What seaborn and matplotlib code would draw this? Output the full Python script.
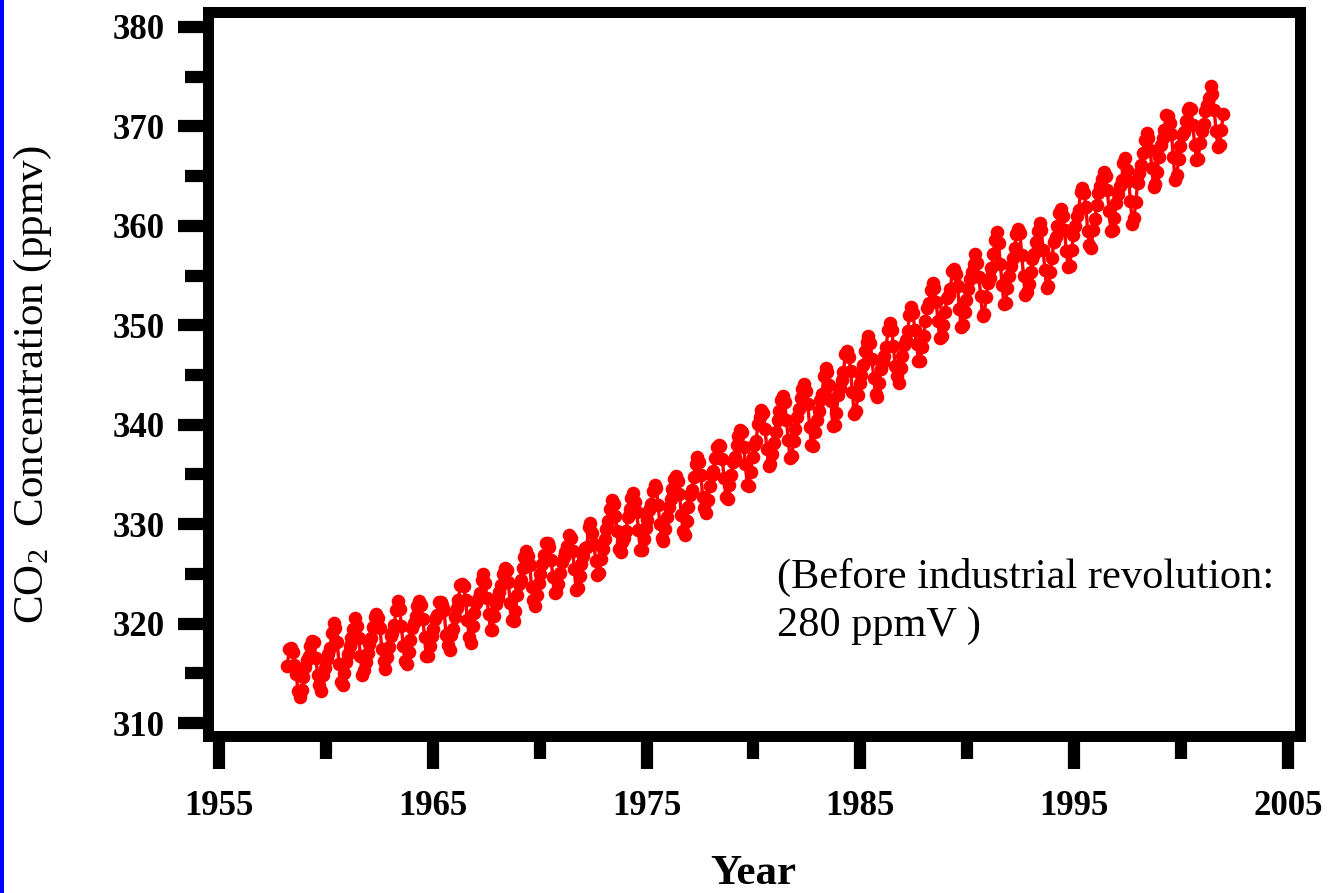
import matplotlib
matplotlib.use("Agg")
import matplotlib.pyplot as plt
import seaborn as sns
import pandas as pd
from matplotlib.ticker import MultipleLocator
from matplotlib.patches import Rectangle

# ---- Data: monthly CO2 concentration (ppmv), Mauna Loa ----
first_month_1958 = 3  # series starts in March 1958
co2_1958 = [315.71, 317.45, 317.50, 317.10, 315.86, 314.93, 313.20, 312.66, 313.33, 314.67]
co2_1959 = [315.62, 316.38, 316.71, 317.72, 318.29, 318.15, 316.54, 314.80, 313.84, 313.26, 314.80, 315.58]
co2_1960 = [316.43, 316.97, 317.58, 319.02, 320.03, 319.59, 318.18, 315.91, 314.16, 313.83, 315.00, 316.19]
co2_1961 = [316.93, 317.70, 318.54, 319.48, 320.58, 319.77, 318.57, 316.79, 314.80, 315.38, 316.10, 317.01]
co2_1962 = [317.94, 318.56, 319.68, 320.63, 321.01, 320.55, 319.58, 317.40, 316.26, 315.42, 316.69, 317.69]
co2_1963 = [318.74, 319.08, 319.86, 321.39, 322.25, 321.47, 319.74, 317.77, 316.21, 315.99, 317.12, 318.31]
co2_1964 = [319.57, 320.07, 320.73, 321.77, 322.25, 321.89, 320.44, 318.70, 316.70, 316.79, 317.79, 318.71]
co2_1965 = [319.44, 320.44, 320.89, 322.13, 322.16, 321.87, 321.39, 318.81, 317.81, 317.30, 318.87, 319.42]
co2_1966 = [320.62, 321.59, 322.39, 323.87, 324.01, 323.75, 322.39, 320.37, 318.64, 318.10, 319.79, 321.08]
co2_1967 = [322.07, 322.50, 323.04, 324.42, 325.00, 324.09, 322.55, 320.92, 319.31, 319.31, 320.72, 321.96]
co2_1968 = [322.57, 323.15, 323.89, 325.02, 325.57, 325.36, 324.14, 322.03, 320.41, 320.25, 321.31, 322.84]
co2_1969 = [324.00, 324.42, 325.64, 326.66, 327.34, 326.76, 325.88, 323.67, 322.38, 321.78, 322.85, 324.11]
co2_1970 = [325.03, 325.99, 326.87, 328.13, 328.07, 327.66, 326.35, 324.69, 323.10, 323.16, 323.98, 325.13]
co2_1971 = [326.17, 326.68, 327.18, 327.78, 328.92, 328.57, 327.34, 325.46, 323.36, 323.57, 324.80, 326.01]
co2_1972 = [326.77, 327.63, 327.75, 329.72, 330.07, 329.09, 328.05, 326.32, 324.93, 325.06, 326.50, 327.55]
co2_1973 = [328.54, 329.56, 330.30, 331.50, 332.48, 332.07, 330.87, 329.31, 327.51, 327.18, 328.16, 328.64]
co2_1974 = [329.35, 330.71, 331.48, 332.65, 333.09, 332.25, 331.18, 329.40, 327.43, 327.37, 328.46, 329.57]
co2_1975 = [330.40, 331.40, 332.04, 333.31, 333.96, 333.59, 331.91, 330.06, 328.56, 328.34, 329.49, 330.76]
co2_1976 = [331.75, 332.56, 333.50, 334.58, 334.87, 334.34, 333.05, 330.94, 329.30, 328.94, 330.31, 331.68]
co2_1977 = [332.93, 333.42, 334.70, 336.07, 336.74, 336.27, 334.93, 332.75, 331.59, 331.16, 332.40, 333.85]
co2_1978 = [334.97, 335.39, 336.64, 337.76, 338.01, 337.89, 336.54, 334.68, 332.76, 332.54, 333.92, 334.95]
co2_1979 = [336.23, 336.76, 337.96, 338.89, 339.47, 339.29, 337.73, 336.09, 333.91, 333.86, 335.29, 336.73]
co2_1980 = [338.01, 338.36, 340.08, 340.77, 341.46, 341.17, 339.56, 337.60, 335.88, 336.01, 337.10, 338.21]
co2_1981 = [339.23, 340.47, 341.38, 342.51, 342.91, 342.25, 340.49, 338.43, 336.69, 336.85, 338.36, 339.61]
co2_1982 = [340.75, 341.61, 342.70, 343.56, 344.13, 343.35, 342.06, 339.82, 337.97, 337.86, 339.26, 340.49]
co2_1983 = [341.38, 342.52, 343.10, 344.94, 345.75, 345.32, 343.99, 342.39, 339.86, 339.99, 341.16, 342.99]
co2_1984 = [343.70, 344.51, 345.28, 347.08, 347.43, 346.79, 345.40, 343.28, 341.07, 341.35, 342.98, 344.22]
co2_1985 = [344.97, 345.99, 347.42, 348.35, 348.93, 348.25, 346.56, 344.67, 343.09, 342.80, 344.24, 345.56]
co2_1986 = [346.29, 346.96, 347.86, 349.55, 350.21, 349.54, 347.94, 345.91, 344.86, 344.17, 345.66, 346.90]
co2_1987 = [348.02, 348.47, 349.42, 350.99, 351.84, 351.25, 349.52, 348.10, 346.44, 346.36, 347.81, 348.96]
co2_1988 = [350.43, 351.72, 352.22, 353.59, 354.22, 353.79, 352.39, 350.44, 348.72, 348.88, 350.07, 351.34]
co2_1989 = [352.76, 353.07, 353.68, 355.42, 355.67, 355.13, 353.90, 351.67, 349.80, 349.99, 351.30, 352.53]
co2_1990 = [353.66, 354.70, 355.39, 356.20, 357.16, 356.22, 354.82, 352.91, 350.96, 351.18, 352.83, 354.21]
co2_1991 = [354.72, 355.75, 357.16, 358.60, 359.34, 358.24, 356.17, 354.03, 352.16, 352.21, 353.75, 354.99]
co2_1992 = [355.98, 356.72, 357.81, 359.15, 359.66, 359.25, 357.02, 355.00, 353.01, 353.31, 354.16, 355.40]
co2_1993 = [356.70, 357.17, 358.38, 359.46, 360.28, 359.60, 357.57, 355.52, 353.70, 353.98, 355.33, 356.80]
co2_1994 = [358.36, 358.91, 359.97, 361.26, 361.68, 360.95, 359.55, 357.49, 355.84, 355.99, 357.58, 359.04]
co2_1995 = [359.96, 361.00, 361.64, 363.45, 363.79, 363.26, 361.90, 359.46, 358.06, 357.75, 359.56, 360.70]
co2_1996 = [362.05, 363.25, 364.03, 364.72, 365.41, 364.97, 363.65, 361.49, 359.46, 359.60, 360.76, 362.33]
co2_1997 = [363.18, 364.00, 364.57, 366.35, 366.79, 365.62, 364.47, 362.51, 360.19, 360.77, 362.43, 364.28]
co2_1998 = [365.32, 366.15, 367.31, 368.61, 369.29, 368.87, 367.64, 365.77, 363.90, 364.23, 365.46, 366.97]
co2_1999 = [368.15, 368.87, 369.59, 371.14, 371.00, 370.35, 369.27, 366.94, 364.63, 365.12, 366.67, 368.01]
co2_2000 = [369.14, 369.46, 370.52, 371.66, 371.82, 371.70, 370.12, 368.12, 366.62, 366.73, 368.29, 369.53]
co2_2001 = [370.28, 371.50, 372.12, 372.87, 374.02, 373.30, 371.62, 369.55, 367.96, 368.09, 369.68, 371.24]

yearly_series = [
    (1958, co2_1958), (1959, co2_1959), (1960, co2_1960), (1961, co2_1961),
    (1962, co2_1962), (1963, co2_1963), (1964, co2_1964), (1965, co2_1965),
    (1966, co2_1966), (1967, co2_1967), (1968, co2_1968), (1969, co2_1969),
    (1970, co2_1970), (1971, co2_1971), (1972, co2_1972), (1973, co2_1973),
    (1974, co2_1974), (1975, co2_1975), (1976, co2_1976), (1977, co2_1977),
    (1978, co2_1978), (1979, co2_1979), (1980, co2_1980), (1981, co2_1981),
    (1982, co2_1982), (1983, co2_1983), (1984, co2_1984), (1985, co2_1985),
    (1986, co2_1986), (1987, co2_1987), (1988, co2_1988), (1989, co2_1989),
    (1990, co2_1990), (1991, co2_1991), (1992, co2_1992), (1993, co2_1993),
    (1994, co2_1994), (1995, co2_1995), (1996, co2_1996), (1997, co2_1997),
    (1998, co2_1998), (1999, co2_1999), (2000, co2_2000), (2001, co2_2001),
]

x_ticks_major = [1955, 1965, 1975, 1985, 1995, 2005]
y_ticks_major = [310, 320, 330, 340, 350, 360, 370, 380]
x_label = "Year"
y_label = "CO$_\\mathrm{2}$  Concentration (ppmv)"
note_line1 = "(Before industrial revolution:"
note_line2 = "280 ppmV )"

# ---- Build table ----
rows = []
for year, vals in yearly_series:
    start = first_month_1958 if year == 1958 else 1
    for i, v in enumerate(vals):
        month = start + i
        rows.append({"date": year + (month - 0.5) / 12.0, "co2": v})
df = pd.DataFrame(rows)

# ---- Style ----
sns.set_style("white")
plt.rcParams["font.family"] = ["Liberation Serif", "DejaVu Serif"]
plt.rcParams["mathtext.fontset"] = "custom"
plt.rcParams["mathtext.rm"] = "Liberation Serif"
plt.rcParams["mathtext.it"] = "Liberation Serif:italic"
plt.rcParams["mathtext.bf"] = "Liberation Serif:bold"
plt.rcParams["text.color"] = "black"
plt.rcParams["axes.labelcolor"] = "black"
plt.rcParams["xtick.color"] = "black"
plt.rcParams["ytick.color"] = "black"
plt.rcParams["xtick.labelcolor"] = "black"
plt.rcParams["ytick.labelcolor"] = "black"

W, H = 1328, 893
fig = plt.figure(figsize=(W / 100, H / 100), dpi=100)
fig.patch.set_facecolor("white")
ax_l, ax_r, ax_t, ax_b = 208, 1300, 12, 736
ax = fig.add_axes([ax_l / W, (H - ax_b) / H, (ax_r - ax_l) / W, (ax_b - ax_t) / H])

sns.lineplot(data=df, x="date", y="co2", ax=ax, color="#ff0000",
             linewidth=2.4, marker="o", markersize=9.8, markeredgewidth=0,
             estimator=None, sort=False)

ax.set_xlim(1954.5, 2005.55)
ax.set_ylim(308.7, 381.5)

ax.xaxis.set_minor_locator(MultipleLocator(5))
ax.yaxis.set_minor_locator(MultipleLocator(5))
ax.set_xticks(x_ticks_major)
ax.set_yticks(y_ticks_major)
ax.set_xticklabels([str(v) for v in x_ticks_major], fontweight="bold")
ax.set_yticklabels([str(v) for v in y_ticks_major], fontweight="bold")

for s in ax.spines.values():
    s.set_linewidth(7.9)
    s.set_color("black")
    s.set_visible(True)

ax.tick_params(axis="both", which="both", direction="out", color="black",
               labelcolor="black", top=False, right=False, left=True, bottom=True)
ax.tick_params(axis="y", which="major", length=21.5, width=8.8, pad=10, labelsize=25)
ax.tick_params(axis="y", which="minor", length=16.5, width=8.8)
ax.tick_params(axis="x", which="major", length=24, width=8.8, pad=15, labelsize=25)
ax.tick_params(axis="x", which="minor", length=16.5, width=8.8)

ax.set_xlabel(x_label, fontsize=31, fontweight="bold", color="black")
ax.set_ylabel(y_label, fontsize=31, color="black")
ax.xaxis.set_label_coords(0.499, -0.164)
ax.yaxis.set_label_coords(-0.141, 0.485)
ax.grid(False)

fig.text(777 / W, (H - 588) / H, note_line1, fontsize=30.5, ha="left", va="baseline",
         color="black", family=["Liberation Serif"])
fig.text(777 / W, (H - 636) / H, note_line2, fontsize=30.5, ha="left", va="baseline",
         color="black", family=["Liberation Serif"])

# blue edge strip at the far left
fig.patches.append(Rectangle((0, 0), 4 / W, 1, transform=fig.transFigure,
                             facecolor="#0000ff", edgecolor="none", zorder=10))

fig.savefig("out.png", dpi=100)
